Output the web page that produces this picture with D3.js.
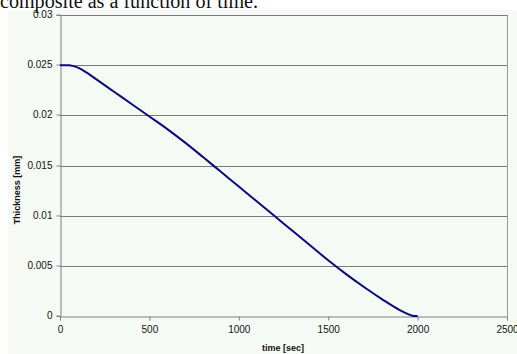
<!DOCTYPE html>
<html><head><meta charset="utf-8">
<script src="https://cdn.jsdelivr.net/npm/d3@7"></script>
<style>body{margin:0;background:#fff}</style>
</head><body>
<svg id="c" width="517" height="354"></svg>
<script>
const timeSec = [0, 50, 100, 150, 200, 300, 400, 500, 600, 700, 800, 900, 1000, 1100, 1200, 1300, 1400, 1500, 1600, 1700, 1800, 1900, 1950, 1980, 2000];
const thicknessMm = [0.025, 0.025, 0.02475, 0.02425, 0.02363, 0.02238, 0.02113, 0.01988, 0.01863, 0.01728, 0.01584, 0.01437, 0.0129, 0.01143, 0.00996, 0.00849, 0.00702, 0.00555, 0.00417, 0.00289, 0.00169, 0.00059, 0.00016, 0.0, 0.0];
const xTicks = [0, 500, 1000, 1500, 2000, 2500];
const yTicks = [0, 0.005, 0.01, 0.015, 0.02, 0.025, 0.03];
const yTickLabels = ["0", "0.005", "0.01", "0.015", "0.02", "0.025", "0.03"];
const titleText = "composite as a function of time.";
const xTitle = "time [sec]";
const yTitle = "Thickness [mm]";

const svg = d3.select("#c");
const L = 60, R = 507, T = 15, B = 316;
const x = d3.scaleLinear().domain([0, 2500]).range([L, R]);
const y = d3.scaleLinear().domain([0, 0.03]).range([B, T]);

svg.append("rect").attr("x", 8).attr("y", 10).attr("width", 509).attr("height", 344).attr("fill", "#f5faf5");

svg.append("text").attr("x", 0).attr("y", 7.5).attr("font-family", "Liberation Serif, Times New Roman, serif")
  .attr("font-size", 20).attr("fill", "#111").attr("textLength", 258).attr("lengthAdjust", "spacingAndGlyphs").text(titleText);

// gridlines
svg.append("g").selectAll("line").data(yTicks.filter(d => d > 0)).join("line")
  .attr("x1", L).attr("x2", R).attr("y1", d => Math.round(y(d)) + 0.5).attr("y2", d => Math.round(y(d)) + 0.5)
  .attr("stroke", "#7a7a7a").attr("stroke-width", 1);
// right border
svg.append("line").attr("x1", R + 0.5).attr("x2", R + 0.5).attr("y1", T).attr("y2", B).attr("stroke", "#9a9a9a");

const yAxis = d3.axisLeft(y).tickValues(yTicks).tickFormat((d, i) => yTickLabels[i]).tickSize(4).tickPadding(4);
const gy = svg.append("g").attr("transform", `translate(${L + 0.5},0)`).call(yAxis);
const xAxis = d3.axisBottom(x).tickValues(xTicks).tickFormat(d3.format("d")).tickSize(4).tickPadding(5);
const gx = svg.append("g").attr("transform", `translate(0,${B + 0.5})`).call(xAxis);
[gx, gy].forEach(g => {
  g.select(".domain").attr("stroke", "#808080");
  g.selectAll(".tick line").attr("stroke", "#808080");
  g.selectAll(".tick text").attr("font-family", "Liberation Sans, Arial, sans-serif").attr("font-size", 10).attr("fill", "#111");
});
gy.selectAll(".tick").attr("transform", d => `translate(0,${Math.round(y(d))})`);

const line = d3.line().x((d, i) => x(timeSec[i])).y(d => y(d)).curve(d3.curveMonotoneX);
svg.append("path").datum(thicknessMm).attr("d", line).attr("fill", "none").attr("stroke", "#0a0a78").attr("stroke-width", 2);

svg.append("text").attr("x", 283).attr("y", 351).attr("text-anchor", "middle")
  .attr("font-family", "Liberation Sans, Arial, sans-serif").attr("font-size", 9).attr("font-weight", "bold").attr("fill", "#111").text(xTitle);
svg.append("text").attr("transform", "translate(20,190) rotate(-90)").attr("text-anchor", "middle")
  .attr("font-family", "Liberation Sans, Arial, sans-serif").attr("font-size", 9).attr("font-weight", "bold").attr("fill", "#111").text(yTitle);
</script>
</body></html>
